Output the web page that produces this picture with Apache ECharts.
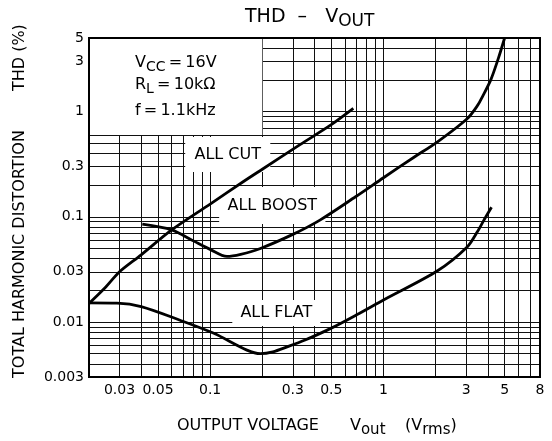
<!DOCTYPE html>
<html>
<head>
<meta charset="utf-8">
<script src="https://cdn.jsdelivr.net/npm/echarts/dist/echarts.min.js"></script>
<style>
html,body{margin:0;padding:0;background:#fff;}
#chart{width:552px;height:441px;}
</style>
</head>
<body>
<div id="chart"></div>
<script>
// ---- axis definitions ----
const xMin = 0.02, xMax = 8;
const yMin = 0.003, yMax = 5;
const xGridValues = [0.03,0.04,0.05,0.06,0.07,0.08,0.09,0.1,0.2,0.3,0.4,0.5,0.6,0.7,0.8,0.9,1,2,3,4,5,6,7,8];
const xLabelValues = [0.03,0.05,0.1,0.3,0.5,1,3,5,8];
const yGridValues = [0.004,0.005,0.006,0.007,0.008,0.009,0.01,0.02,0.03,0.04,0.05,0.06,0.07,0.08,0.09,0.1,0.2,0.3,0.4,0.5,0.6,0.7,0.8,0.9,1,2,3,4,5];
const yLabelValues = [0.003,0.01,0.03,0.1,0.3,1,3,5];

// ---- curve data (Vout in Vrms, THD in %) ----
const curveNames = ['ALL CUT','ALL BOOST','ALL FLAT'];
const allCutX = [0.02, 0.025, 0.03, 0.04, 0.06, 0.1, 0.155, 0.2, 0.33, 0.5, 0.67];
const allCutY = [0.015, 0.0215, 0.03, 0.0435, 0.075, 0.132, 0.215, 0.283, 0.485, 0.75, 1.07];
const allBoostX = [0.0406, 0.06, 0.08, 0.1, 0.125, 0.15, 0.195, 0.3, 0.43, 0.69, 1.0, 1.5, 2.05, 3.05, 3.5, 3.72, 4.16, 4.6, 5.0];
const allBoostY = [0.085, 0.075, 0.059, 0.049, 0.042, 0.044, 0.05, 0.068, 0.093, 0.155, 0.235, 0.368, 0.516, 0.86, 1.15, 1.38, 2.0, 3.2, 5.0];
const allFlatX = [0.02, 0.029, 0.04, 0.067, 0.105, 0.163, 0.195, 0.23, 0.278, 0.35, 0.49, 0.7, 1.0, 2.05, 3.05, 3.48, 3.8, 4.2];
const allFlatY = [0.0152, 0.0151, 0.014, 0.0104, 0.0078, 0.0054, 0.005, 0.0052, 0.0058, 0.0067, 0.0086, 0.0117, 0.0162, 0.0307, 0.052, 0.072, 0.093, 0.123];

// label areas (data coordinates) : [x1, y1, x2, y2]
const infoBox = [0.02, 0.6, 0.2, 5];
const cutLabelBox = [0.0718, 0.573, 0.2223, 0.266];
const boostLabelBox = [0.1127, 0.1918, 0.4624, 0.0853];
const flatLabelBox = [0.1342, 0.01616, 0.4325, 0.00915];

const FONT = 'DejaVu Sans';
const zip = (xs, ys) => xs.map((x, i) => [x, ys[i]]);
const fmt = v => String(parseFloat(Number(v).toPrecision(4)));

const chart = echarts.init(document.getElementById('chart'), null, {renderer: 'canvas'});

function areaItem(box, name) {
  return [
    {name: name || '', coord: [box[0], box[1]]},
    {coord: [box[2], box[3]]}
  ];
}

const lineStyle = {color: '#000', width: 2.8};
const curveBase = {type: 'line', showSymbol: false, symbol: 'none', smooth: 0.3, lineStyle: lineStyle, z: 3};

const option = {
  animation: false,
  backgroundColor: '#fff',
  textStyle: {fontFamily: FONT},
  grid: {
    left: 89, top: 38, width: 451, height: 339,
    show: true, z: 5, backgroundColor: 'transparent',
    borderColor: '#000', borderWidth: 2,
    containLabel: false, outerBoundsMode: 'none'
  },
  xAxis: {
    type: 'log', min: xMin, max: xMax, logBase: 10,
    axisLine: {show: false},
    axisTick: {show: true, length: 0, customValues: xGridValues},
    splitLine: {show: true, lineStyle: {color: '#111', width: 1}},
    minorSplitLine: {show: false},
    axisLabel: {
      customValues: xLabelValues, formatter: fmt, margin: 6,
      color: '#000', fontSize: 14, fontFamily: FONT, hideOverlap: false
    }
  },
  yAxis: {
    type: 'log', min: yMin, max: yMax, logBase: 10,
    axisLine: {show: false},
    axisTick: {show: true, length: 0, customValues: yGridValues},
    splitLine: {show: true, lineStyle: {color: '#111', width: 1}},
    minorSplitLine: {show: false},
    axisLabel: {
      customValues: yLabelValues, formatter: fmt, margin: 5,
      color: '#000', fontSize: 14, fontFamily: FONT, hideOverlap: false
    }
  },
  series: [
    Object.assign({}, curveBase, {
      name: curveNames[0], data: zip(allCutX, allCutY),
      markArea: {
        silent: true, z: 1,
        itemStyle: {color: '#fff', borderWidth: 0},
        label: {show: true, position: 'inside', color: '#000', fontSize: 16, fontFamily: FONT},
        data: [
          areaItem(infoBox, ''),
          areaItem(cutLabelBox, curveNames[0]),
          areaItem(boostLabelBox, curveNames[1]),
          areaItem(flatLabelBox, curveNames[2])
        ]
      }
    }),
    Object.assign({}, curveBase, {name: curveNames[1], data: zip(allBoostX, allBoostY)}),
    Object.assign({}, curveBase, {name: curveNames[2], data: zip(allFlatX, allFlatY)})
  ],
  graphic: [
    // title
    {type: 'text', x: 245, y: 17, z: 100, style: {
      text: '{m|THD  \u2013   V}{s|OUT}',
      textAlign: 'left', textVerticalAlign: 'middle', fill: '#000',
      rich: {m: {fontSize: 19, fontFamily: FONT, fill: '#000'},
             s: {fontSize: 17, fontFamily: FONT, fill: '#000', padding: [10, 0, 0, 0]}}
    }},
    // info box text
    {type: 'text', x: 135, y: 63, z: 100, style: {
      text: '{m|V}{s|CC}{m|\u2009=\u200916V}',
      textAlign: 'left', textVerticalAlign: 'middle',
      rich: {m: {fontSize: 16, fontFamily: FONT, fill: '#000'},
             s: {fontSize: 14, fontFamily: FONT, fill: '#000', padding: [8, 0, 0, 0]}}
    }},
    {type: 'text', x: 135, y: 85, z: 100, style: {
      text: '{m|R}{s|L}{m|\u2009=\u200910k\u03A9}',
      textAlign: 'left', textVerticalAlign: 'middle',
      rich: {m: {fontSize: 16, fontFamily: FONT, fill: '#000'},
             s: {fontSize: 14, fontFamily: FONT, fill: '#000', padding: [8, 0, 0, 0]}}
    }},
    {type: 'text', x: 135, y: 111, z: 100, style: {
      text: 'f\u2009=\u20091.1kHz', fontSize: 16, fontFamily: FONT, fill: '#000',
      textAlign: 'left', textVerticalAlign: 'middle'
    }},
    // y axis title
    {type: 'text', x: 20, y: 254, rotation: Math.PI / 2, z: 100, style: {
      text: 'TOTAL HARMONIC DISTORTION', fontSize: 16, fontFamily: FONT, fill: '#000',
      textAlign: 'center', textVerticalAlign: 'middle'
    }},
    {type: 'text', x: 20, y: 74, rotation: Math.PI / 2, z: 100, style: {
      text: 'THD', fontSize: 16, fontFamily: FONT, fill: '#000',
      textAlign: 'center', textVerticalAlign: 'middle'
    }},
    {type: 'text', x: 20, y: 38, rotation: Math.PI / 2, z: 100, style: {
      text: '(%)', fontSize: 16, fontFamily: FONT, fill: '#000',
      textAlign: 'center', textVerticalAlign: 'middle'
    }},
    // x axis title
    {type: 'text', x: 177, y: 426, z: 100, style: {
      text: 'OUTPUT VOLTAGE', fontSize: 16, fontFamily: FONT, fill: '#000',
      textAlign: 'left', textVerticalAlign: 'middle'
    }},
    {type: 'text', x: 350, y: 426, z: 100, style: {
      text: '{m|V}{s|out}',
      textAlign: 'left', textVerticalAlign: 'middle',
      rich: {m: {fontSize: 16, fontFamily: FONT, fill: '#000'},
             s: {fontSize: 15, fontFamily: FONT, fill: '#000', padding: [9, 0, 0, 0]}}
    }},
    {type: 'text', x: 405, y: 426, z: 100, style: {
      text: '{m|(V}{s|rms}{m|)}',
      textAlign: 'left', textVerticalAlign: 'middle',
      rich: {m: {fontSize: 16, fontFamily: FONT, fill: '#000'},
             s: {fontSize: 15, fontFamily: FONT, fill: '#000', padding: [9, 0, 0, 0]}}
    }}
  ]
};
chart.setOption(option);
</script>
</body>
</html>
